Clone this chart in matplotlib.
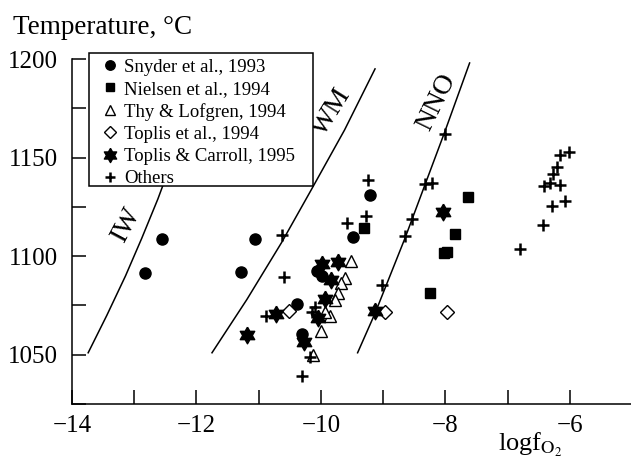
import numpy as np
import matplotlib
matplotlib.use("Agg")
import matplotlib.pyplot as plt
from matplotlib.patches import Rectangle
from matplotlib.ticker import MultipleLocator, FuncFormatter

plt.rcParams['font.family'] = ['Liberation Serif', 'DejaVu Serif']
plt.rcParams['mathtext.fontset'] = 'stix'

# buffer curves (logfO2, T)
iw_x = [-13.74, -13.44, -13.14, -12.88, -12.62, -12.42]
iw_y = [1051, 1070, 1090, 1109, 1129, 1146]
wm_x = [-11.75, -11.19, -10.63, -10.14, -9.62, -9.13]
wm_y = [1051, 1078, 1107, 1134.5, 1164, 1195]
nno_x = [-9.41, -9.13, -8.65, -8.33, -8.01, -7.61]
nno_y = [1051, 1071, 1109, 1136, 1163, 1198]

# data points
snyder_x = [-12.83, -12.55, -11.06, -11.29, -10.38, -10.31, -10.06, -9.98, -9.49, -9.21]
snyder_y = [1091.5, 1108.8, 1108.8, 1092.0, 1075.7, 1060.6, 1092.6, 1090.0, 1109.6, 1131.0]

nielsen_x = [-9.31, -7.63, -7.85, -7.98, -8.02, -8.25]
nielsen_y = [1114.2, 1130.2, 1111.3, 1102.3, 1101.5, 1081.2]

thy_x = [-9.51, -9.61, -9.67, -9.72, -9.78, -9.86, -10.0, -10.13, -9.93]
thy_y = [1097.3, 1089.0, 1086.5, 1081.3, 1077.9, 1069.7, 1061.8, 1050.0, 1071.5]

toplis_x = [-10.52, -8.97, -7.98]
toplis_y = [1072.4, 1071.9, 1071.9]

tc_x = [-11.18, -10.72, -9.99, -9.72, -9.83, -9.94, -10.04, -10.27, -9.13, -8.03]
tc_y = [1060.1, 1070.8, 1096.1, 1096.8, 1088.0, 1078.2, 1068.6, 1056.7, 1072.3, 1122.6]

oth_x = [-10.62, -10.59, -10.88, -10.10, -10.14, -9.24, -9.28, -9.58, -10.31, -10.18,
         -8.00, -8.33, -8.21, -8.53, -8.65, -9.01,
         -6.80, -6.43, -6.28, -6.08, -6.41, -6.32, -6.15, -6.27, -6.20, -6.16, -6.02]
oth_y = [1110.8, 1089.4, 1069.7, 1074.2, 1071.5, 1138.7, 1120.4, 1116.7, 1039.0, 1049.1,
         1161.8, 1136.5, 1137.0, 1118.8, 1110.3, 1085.5,
         1103.5, 1115.9, 1125.6, 1128.0, 1135.8, 1137.3, 1136.1, 1141.6, 1145.1, 1151.3, 1153.0]

xticks = [-14, -12, -10, -8, -6]
yticks = [1050, 1100, 1150, 1200]

# six-pointed star marker
ang_o = np.deg2rad(90 + 60 * np.arange(6))
ang_i = np.deg2rad(120 + 60 * np.arange(6))
verts = []
for a, b in zip(ang_o, ang_i):
    verts.append((np.cos(a), np.sin(a)))
    verts.append((np.cos(b) / np.sqrt(3), np.sin(b) / np.sqrt(3)))
verts.append(verts[0])
hexagram = verts

fig = plt.figure(figsize=(6.31, 4.66), dpi=100)
ax = fig.add_axes([0.1141, 0.1330, 0.8875, 0.7403])

lw = 1.1
ax.plot(iw_x, iw_y, color='black', lw=lw, zorder=1)
ax.plot(wm_x, wm_y, color='black', lw=lw, zorder=1)
ax.plot(nno_x, nno_y, color='black', lw=lw, zorder=1)

ax.text(-13.12, 1116, 'IW', rotation=62, fontsize=20, ha='center', va='center')
ax.text(-9.83, 1173, 'WM', rotation=58, fontsize=20, ha='center', va='center')
ax.text(-8.14, 1178, 'NNO', rotation=64, fontsize=20, ha='center', va='center')

ax.plot(snyder_x, snyder_y, 'o', color='black', ms=8, ls='none', label='Snyder et al., 1993', zorder=3)
ax.plot(nielsen_x, nielsen_y, 's', color='black', ms=7.5, ls='none', label='Nielsen et al., 1994', zorder=3)
ax.plot(thy_x, thy_y, '^', mfc='white', mec='black', mew=1.0, ms=8.5, ls='none',
        label='Thy & Lofgren, 1994', zorder=3)
ax.plot(toplis_x, toplis_y, 'D', mfc='white', mec='black', mew=1.0, ms=7.5, ls='none',
        label='Toplis et al., 1994', zorder=3)
ax.plot(tc_x, tc_y, marker=hexagram, color='black', ms=12, ls='none',
        label='Toplis & Carroll, 1995', zorder=3)
ax.plot(oth_x, oth_y, '+', color='black', ms=8, mew=1.8, ls='none', label='Others', zorder=3)

ax.set_xlim(-14, -5)
ax.set_ylim(1025, 1200)
ax.spines['top'].set_visible(False)
ax.spines['right'].set_visible(False)
for s in ('left', 'bottom'):
    ax.spines[s].set_linewidth(1.1)

ax.set_xticks(xticks)
ax.set_yticks(yticks)
ax.xaxis.set_minor_locator(MultipleLocator(1))
ax.yaxis.set_minor_locator(MultipleLocator(25))
ax.xaxis.set_major_formatter(FuncFormatter(lambda v, p: '\u2212%d' % abs(v)))
ax.tick_params(which='both', direction='in', length=10, width=1.1, labelsize=18)
ax.tick_params(axis='x', pad=8)
ax.tick_params(axis='y', pad=10)

# legend box drawn separately so its padding matches the original
box = Rectangle((0.0304, 0.632), 0.4, 0.3855, transform=ax.transAxes,
                facecolor='white', edgecolor='black', lw=1.1, clip_on=False, zorder=4)
ax.add_patch(box)
leg = ax.legend(loc='upper left', bbox_to_anchor=(0.051, 1.0014), borderaxespad=0,
                fontsize=13.5, frameon=False,
                handlelength=1.0, handletextpad=0.25, labelspacing=0.27,
                borderpad=0, markerscale=0.85)
leg.set_zorder(5)

fig.text(0.02, 0.94, 'Temperature, \u00b0C', fontsize=19.5, ha='left', va='center')
fig.text(0.84, 0.045, r'logf$_{\mathrm{O_2}}$', fontsize=19, ha='center', va='center')

fig.savefig('out.png', dpi=100)
